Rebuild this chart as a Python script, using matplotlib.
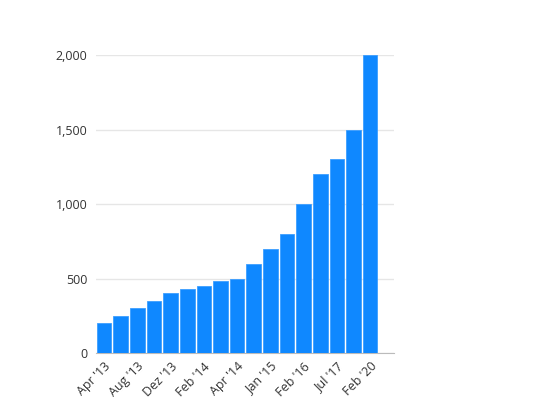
import matplotlib.pyplot as plt
from matplotlib.ticker import FuncFormatter

plt.rcParams['font.family'] = ['Open Sans', 'DejaVu Sans']

# bar data; only every other bar has a visible date label
dates = ["Apr '13", "", "Aug '13", "", "Dez '13", "", "Feb '14", "",
         "Apr '14", "", "Jan '15", "", "Feb '16", "", "Jul '17", "", "Feb '20"]
values = [200, 250, 300, 350, 400, 430, 450, 480, 500, 600, 700, 800, 1000, 1200, 1300, 1500, 2000]
yticks = [0, 500, 1000, 1500, 2000]

fig = plt.figure(figsize=(5.6, 4.2), dpi=100)
ax = fig.add_axes([0.171, 0.1595, 0.533, 0.7095])

x = list(range(len(values)))
ax.bar(x, values, width=0.88, color='#0f88ff', edgecolor='#3d9eff', linewidth=0.6, zorder=3)

ax.set_xlim(-0.5, len(values) + 0.45)
ax.set_ylim(0, 2000)
ax.set_yticks(yticks)
ax.yaxis.set_major_formatter(FuncFormatter(lambda v, p: f'{int(v):,}'))
ax.grid(axis='y', color='#e6e6e6', linewidth=1, zorder=0)

ax.set_xticks(x[::2])
ax.set_xticklabels(dates[::2], rotation=45, ha='right', rotation_mode='anchor')

for s in ['top', 'right', 'left']:
    ax.spines[s].set_visible(False)
ax.spines['bottom'].set_color('#bbbbbb')
ax.tick_params(axis='both', length=0, labelsize=9, colors='#333333')
ax.tick_params(axis='y', pad=6)
ax.tick_params(axis='x', pad=5)

fig.savefig('out.png', dpi=100)
